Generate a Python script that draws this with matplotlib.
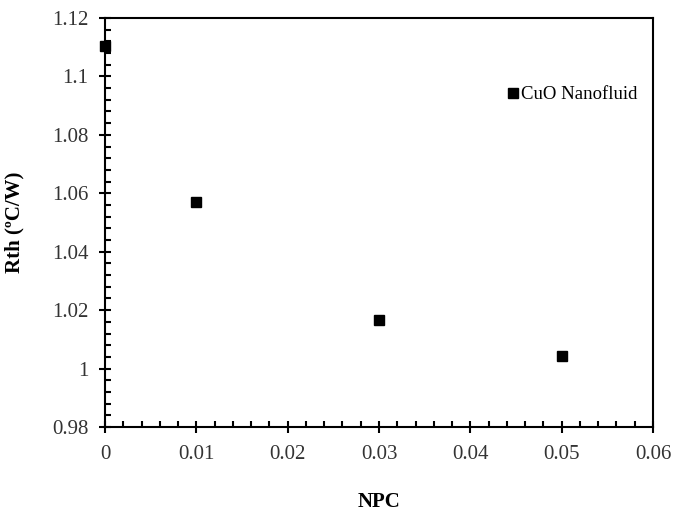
import matplotlib.pyplot as plt
from matplotlib.ticker import MultipleLocator

# nanoparticle concentration vs thermal resistance
npc = [0.0, 0.01, 0.03, 0.05]
rth = [1.1105, 1.057, 1.0165, 1.0044]

plt.rcParams['font.family'] = ['Liberation Serif', 'DejaVu Serif']

fig = plt.figure(figsize=(6.75, 5.11), dpi=100)
ax = fig.add_axes([0.1556, 0.1644, 0.8118, 0.8004])

ax.plot(npc, rth, linestyle='none', marker='s', markersize=7,
        color='black', label='CuO Nanofluid', clip_on=False, zorder=5)

ax.set_xlim(0, 0.06)
ax.set_ylim(0.98, 1.12)
ax.xaxis.set_minor_locator(MultipleLocator(0.002))
ax.yaxis.set_minor_locator(MultipleLocator(0.004))
ax.set_xticks([0, 0.01, 0.02, 0.03, 0.04, 0.05, 0.06])
ax.set_yticks([0.98, 1.0, 1.02, 1.04, 1.06, 1.08, 1.1, 1.12])
ax.set_xticklabels(['0', '0.01', '0.02', '0.03', '0.04', '0.05', '0.06'])
ax.set_yticklabels(['0.98', '1', '1.02', '1.04', '1.06', '1.08', '1.1', '1.12'])

for s in ax.spines.values():
    s.set_linewidth(1.5)
ax.tick_params(which='major', direction='inout', length=8, width=1.5,
               labelsize=15, colors='black', labelcolor='#333333')
ax.tick_params(axis='x', which='major', pad=9)
ax.tick_params(axis='y', which='major', pad=8)
ax.tick_params(which='minor', direction='in', length=4, width=1.5)

ax.set_xlabel('NPC', fontsize=15, fontweight='bold', labelpad=20)
ax.set_ylabel('Rth (ºC/W)', fontsize=15, fontweight='bold', labelpad=20)

ax.legend(loc='center left', bbox_to_anchor=(0.736, 0.812), frameon=False,
          fontsize=13.5, handlelength=0.5, handletextpad=0.2, borderpad=0,
          borderaxespad=0)

fig.savefig('out.png', dpi=100)
